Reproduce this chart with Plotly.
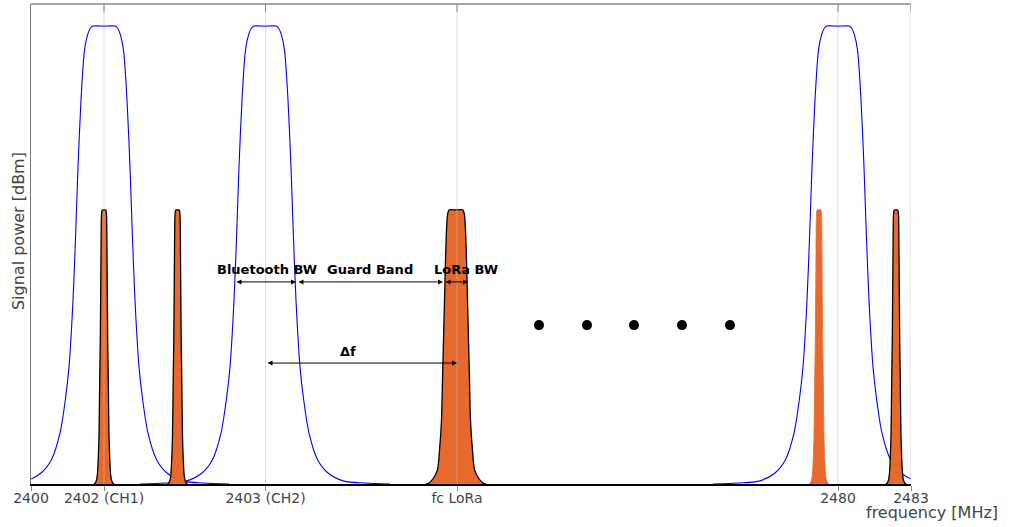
import plotly.graph_objects as go

# ---- axis ticks (schematic frequency positions) ----
tick_vals = [0, 73, 234.5, 426, 807, 880]
tick_text = ["2400", "2402 (CH1)", "2403 (CH2)", "fc LoRa", "2480", "2483"]

# ---- Bluetooth channel spectra (blue) ----
bt_centers = [73, 234, 807]
bt_offsets = [0, 11, 13.5, 16.5, 19.5, 23, 26, 28.3, 31, 35, 38.7, 44, 52.7, 63, 79, 100, 125]
bt_values = [0.954, 0.954, 0.95, 0.935, 0.904, 0.8, 0.66, 0.523, 0.383, 0.244,
             0.175, 0.106, 0.05, 0.023, 0.006, 0.002, 0.0]

# ---- LoRa spectra (orange) ----
narrow_centers = [73, 146.5, 865]
faint_centers = [788]
narrow_offsets = [0, 1.8, 2.5, 3.0, 3.7, 4.3, 5.0, 5.8, 6.6, 7.5, 8.8, 10]
narrow_values = [0.571, 0.571, 0.56, 0.48, 0.3, 0.217, 0.1, 0.05, 0.02, 0.008, 0.002, 0.0]

wide_centers = [425]
wide_offsets = [0, 7, 8.5, 9.5, 10.5, 11.5, 12.5, 13.5, 14.5, 16.5, 18.5, 22.5, 27, 30]
wide_values = [0.571, 0.571, 0.56, 0.529, 0.467, 0.383, 0.3, 0.217, 0.133, 0.07, 0.03,
               0.0125, 0.002, 0.0]

# ---- annotations ----
dot_x = [508, 556, 603, 651, 699]
dot_y = [0.331] * 5

bw_arrows = [  # (x_start, x_end, y)
    (204, 265, 0.421),
    (266, 412, 0.421),
    (413, 437, 0.421),
    (235, 426, 0.252),
]
labels = [  # (text, x, y)
    ("Bluetooth BW", 236, 0.446),
    ("Guard Band", 339, 0.446),
    ("LoRa BW", 435, 0.446),
    ("Δf", 317, 0.277),
]

ORANGE = "#E8692D"
FONT = "DejaVu Sans"


def mirror(center, offs, vals):
    xs = [center - o for o in reversed(offs)] + [center + o for o in offs[1:]]
    ys = list(reversed(vals)) + list(vals[1:])
    return xs, ys


fig = go.Figure()

for c in bt_centers:
    xs, ys = mirror(c, bt_offsets, bt_values)
    fig.add_trace(go.Scatter(x=xs, y=ys, mode="lines",
                             line=dict(color="#0000FF", width=1.1, shape="spline", smoothing=0.8),
                             hoverinfo="skip", showlegend=False))

for c in narrow_centers:
    xs, ys = mirror(c, narrow_offsets, narrow_values)
    fig.add_trace(go.Scatter(x=xs, y=ys, mode="lines", fill="tozeroy", fillcolor=ORANGE,
                             line=dict(color="black", width=1.3, shape="spline", smoothing=0.7),
                             hoverinfo="skip", showlegend=False))

for c in faint_centers:
    xs, ys = mirror(c, narrow_offsets, narrow_values)
    fig.add_trace(go.Scatter(x=xs, y=ys, mode="lines", fill="tozeroy", fillcolor=ORANGE,
                             line=dict(color=ORANGE, width=0.8, shape="spline", smoothing=0.7),
                             hoverinfo="skip", showlegend=False))

for c in wide_centers:
    xs, ys = mirror(c, wide_offsets, wide_values)
    fig.add_trace(go.Scatter(x=xs, y=ys, mode="lines", fill="tozeroy", fillcolor=ORANGE,
                             line=dict(color="black", width=1.3, shape="spline", smoothing=0.7),
                             hoverinfo="skip", showlegend=False))

fig.add_trace(go.Scatter(x=dot_x, y=dot_y, mode="markers",
                         marker=dict(color="black", size=10),
                         hoverinfo="skip", showlegend=False))

shapes = []
# gridlines drawn above the fills (as in the reference)
for tv in tick_vals[1:]:
    shapes.append(dict(type="line", xref="x", yref="paper", x0=tv, x1=tv, y0=0, y1=1,
                       line=dict(color="rgba(190,190,190,0.55)", width=1), layer="above"))
    # inward ticks on top border
    shapes.append(dict(type="line", xref="x", yref="paper", x0=tv, x1=tv, y0=1, y1=1 - 8 / 480,
                       line=dict(color="#888888", width=1), layer="above"))
# top border
shapes.append(dict(type="line", xref="paper", yref="paper", x0=0, x1=1, y0=1, y1=1,
                   line=dict(color="#888888", width=1.5), layer="above"))

annotations = []
for x0, x1, y in bw_arrows:
    annotations.append(dict(x=x1, y=y, ax=x0, ay=y, xref="x", yref="y", axref="x", ayref="y",
                            text="", showarrow=True, arrowhead=2, startarrowhead=2,
                            arrowside="end+start", arrowsize=1, startarrowsize=1,
                            arrowwidth=1, arrowcolor="black", standoff=0, startstandoff=0))
for t, x, y in labels:
    annotations.append(dict(x=x, y=y, xref="x", yref="y", text="<b>%s</b>" % t,
                            showarrow=False, font=dict(family=FONT, size=13, color="black"),
                            xanchor="center", yanchor="middle"))
annotations.append(dict(x=0, y=0.527, xref="paper", yref="paper", xshift=-13,
                        text="Signal power [dBm]", textangle=-90, showarrow=False,
                        font=dict(family=FONT, size=16, color="#444444"),
                        xanchor="center", yanchor="middle"))
annotations.append(dict(x=1, y=0, xref="paper", yref="paper", xshift=89, yshift=-28,
                        text="frequency [MHz]", showarrow=False,
                        font=dict(family=FONT, size=16, color="#444444"),
                        xanchor="right", yanchor="middle"))

fig.update_layout(
    width=1010, height=527,
    margin=dict(l=31, r=99, t=4, b=43, autoexpand=False),
    paper_bgcolor="white", plot_bgcolor="white",
    shapes=shapes, annotations=annotations,
    xaxis=dict(range=[0, 880], tickvals=tick_vals, ticktext=tick_text, automargin=False,
               showgrid=False, zeroline=False, showline=True, linecolor="black", linewidth=2,
               ticks="outside", ticklen=5, tickcolor="#888888", tickwidth=1,
               ticklabelstandoff=-5,
               tickfont=dict(family=FONT, size=14, color="#444444")),
    yaxis=dict(range=[0, 1], showgrid=False, zeroline=False, showticklabels=False,
               automargin=False,
               showline=True, linecolor="#777777", linewidth=1, ticks=""),
    font=dict(family=FONT),
)

fig.write_html("out.html", config={"displayModeBar": False},
               post_script="document.body.style.margin='0px';")
